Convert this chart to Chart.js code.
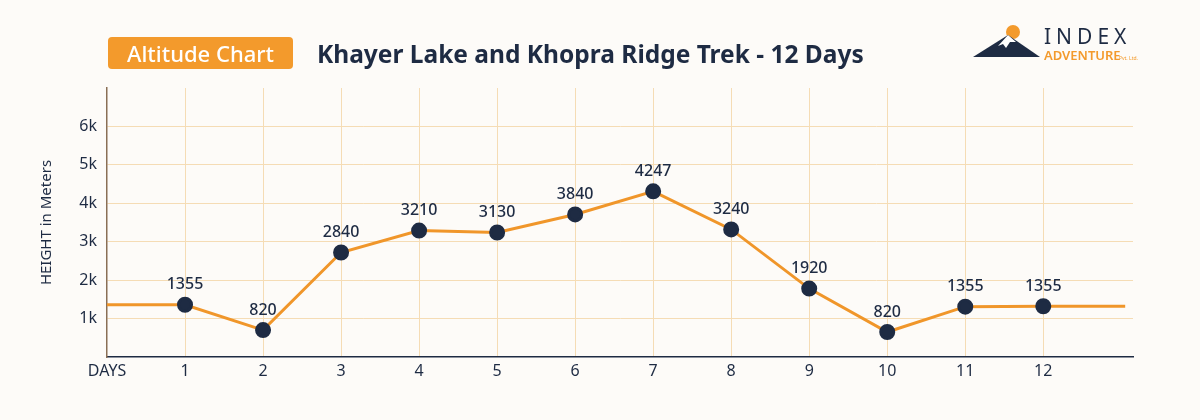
<!DOCTYPE html>
<html><head><meta charset="utf-8">
<script src="https://cdn.jsdelivr.net/npm/chart.js@4"></script>
<style>
body{margin:0;background:#fdfbf8;width:1200px;height:420px;overflow:hidden;font-family:"Noto Sans",Lato,sans-serif;position:relative}
#c{position:absolute;left:0;top:0}
.badge{position:absolute;left:108px;top:37px;width:185px;height:32px;background:#f39a2c;border-radius:4px;color:#fff;font:500 22px "Noto Sans";text-align:center;line-height:32px}
.title{position:absolute;left:317px;top:38px;color:#1e2b43;font:700 24.5px "Noto Sans";line-height:32px;white-space:nowrap}
.logo{position:absolute;left:970px;top:22px}
</style></head><body>
<canvas id="c" width="1200" height="420"></canvas>
<div class="badge">Altitude Chart</div>
<div class="title">Khayer Lake and Khopra Ridge Trek - 12 Days</div>
<div class="logo"><svg width="190" height="50">
<circle cx="43" cy="10" r="7" fill="#f39a2c"/>
<polygon points="3,35 38,13 70,35" fill="#1e2b43"/>
<polygon points="28,24 38,13 46,20 40,20 36,26 33,22" fill="#fff"/>
<text x="74" y="22" font-family="Noto Sans" font-size="21" fill="#1e2b43" letter-spacing="5">INDEX</text>
<text x="74" y="38" font-family="Noto Sans" font-size="13" font-weight="600" fill="#f39a2c">ADVENTURE</text>
<text x="149" y="38" font-family="Noto Sans" font-size="5" fill="#f39a2c">Pvt. Ltd.</text>
</svg></div>
<script>
const days=[0,1,2,3,4,5,6,7,8,9,10,11,12,13.05];
const heights=[1.36,1.36,0.7,2.72,3.29,3.24,3.71,4.31,3.32,1.78,0.65,1.31,1.32,1.32];
const elevLabels=["","1355","820","2840","3210","3130","3840","4247","3240","1920","820","1355","1355",""];
const yTicks=["","1k","2k","3k","4k","5k","6k",""];
const labelPlugin={id:'lbl',afterDatasetsDraw(ch){const ctx=ch.ctx;const m=ch.getDatasetMeta(0);ctx.save();ctx.font='500 16px "Noto Sans"';ctx.fillStyle='#1e2b43';ctx.textAlign='center';ctx.textBaseline='bottom';
m.data.forEach((p,i)=>{if(elevLabels[i])ctx.fillText(elevLabels[i],p.x,p.y-12);});ctx.restore();}};
new Chart(document.getElementById('c'),{type:'line',
data:{datasets:[{data:days.map((d,i)=>({x:d,y:heights[i]})),borderColor:'#f0962a',borderWidth:3,tension:0,
pointRadius:days.map((d,i)=>elevLabels[i]?6.5:0),pointBackgroundColor:'#1e2b43',pointBorderColor:'#1e2b43',pointHoverRadius:6.5}]},
options:{responsive:false,animation:false,events:[],layout:{padding:{left:38,right:67,top:88,bottom:0}},
plugins:{legend:{display:false},tooltip:{enabled:false}},
scales:{x:{type:'linear',min:0,max:13.15,afterFit:s=>{s.height=63},
ticks:{stepSize:1,padding:5,color:'#1e2b43',font:{family:'Noto Sans',size:16},callback:v=>v===0?'DAYS':(v>=1&&v<=12?String(v):'')},
grid:{color:c=>(c.tick&&c.tick.value>=1&&c.tick.value<=12)?'#f5dcb5':'rgba(0,0,0,0)',drawTicks:false},border:{color:'#1e2b43',width:1.5}},
y:{min:0,max:7,afterFit:s=>{s.width=69},ticks:{stepSize:1,padding:10,color:'#1e2b43',font:{family:'Noto Sans',size:16},callback:v=>yTicks[v]??''},
grid:{color:c=>(c.tick&&c.tick.value>=1&&c.tick.value<=6)?'#f5dcb5':'rgba(0,0,0,0)',drawTicks:false},border:{color:'#8a6f55',width:1.5},
title:{display:true,text:'HEIGHT in Meters',color:'#1e2b43',font:{family:'Noto Sans',size:15},padding:0}}}},
plugins:[labelPlugin]});
</script></body></html>
